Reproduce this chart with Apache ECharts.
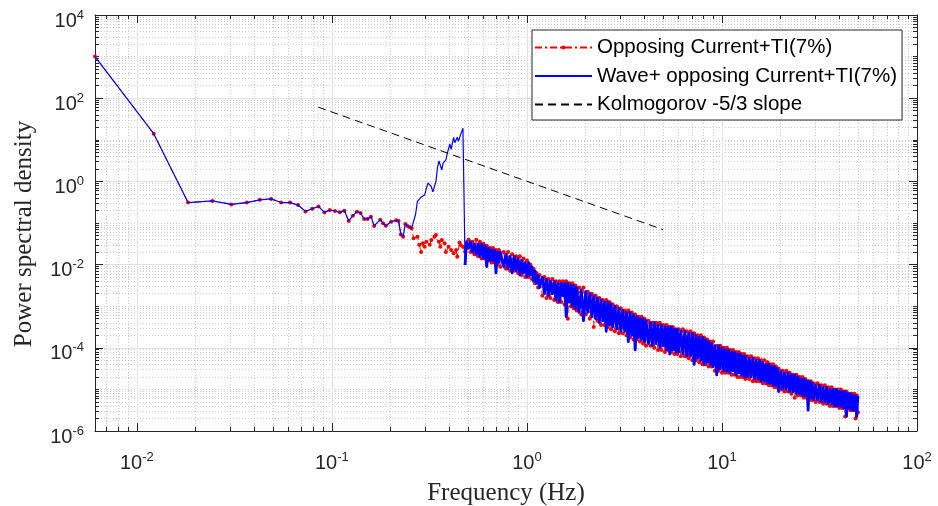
<!DOCTYPE html>
<html>
<head>
<meta charset="utf-8">
<title>Power spectral density</title>
<script src="https://cdn.jsdelivr.net/npm/echarts@6/dist/echarts.min.js"></script>
<style>
  html, body { margin: 0; padding: 0; background: #ffffff; }
  #chart { width: 938px; height: 506px; }
</style>
</head>
<body>
<div id="chart"></div>
<script>
// ---- Spectrum data (frequency in Hz, PSD) ----

// Low-frequency part where both spectra coincide
const sharedFreq = [0.0061, 0.0122, 0.0183, 0.0244, 0.0305, 0.0366, 0.0427, 0.0488, 0.0549, 0.0610,
  0.0671, 0.0732, 0.0793, 0.0854, 0.0915, 0.0976, 0.1037, 0.1098, 0.1159, 0.1220,
  0.1281, 0.1342, 0.1403, 0.1464, 0.1525, 0.1586, 0.1647, 0.1769, 0.1830, 0.1891,
  0.2013, 0.2135, 0.2196, 0.2257, 0.2318, 0.2379, 0.2440, 0.2501];
const sharedPsd = [1000, 14, 0.31, 0.34, 0.28, 0.31, 0.36, 0.38, 0.31, 0.31,
  0.27, 0.19, 0.22, 0.25, 0.18, 0.205, 0.194, 0.181, 0.198, 0.112,
  0.15, 0.187, 0.174, 0.125, 0.125, 0.142, 0.085, 0.12, 0.098, 0.086,
  0.107, 0.116, 0.112, 0.053, 0.047, 0.095, 0.085, 0.08];

// Current only, 0.25 - 0.48 Hz
const redMidFreq = [0.2562, 0.2623, 0.2745, 0.2806, 0.2867, 0.2928, 0.2989, 0.3050, 0.3172, 0.3233,
  0.3355, 0.3416, 0.3538, 0.3599, 0.3660, 0.3782, 0.3843, 0.3965, 0.4087, 0.4209,
  0.4331, 0.4392, 0.4514, 0.4575, 0.4697, 0.4819];
const redMidPsd = [0.075, 0.043, 0.047, 0.030, 0.020, 0.0325, 0.027, 0.0355, 0.030, 0.039,
  0.047, 0.0515, 0.0355, 0.027, 0.039, 0.0325, 0.020, 0.027, 0.0224, 0.0187,
  0.0224, 0.0155, 0.034, 0.0296, 0.0269, 0.0204];

// Wave + current, 0.25 - 0.48 Hz (wave peak)
const blueMidFreq = [0.2562, 0.2684, 0.2745, 0.2867, 0.2989, 0.3050, 0.3111, 0.3233, 0.3294, 0.3416,
  0.3477, 0.3538, 0.3660, 0.3721, 0.3843, 0.3904, 0.4026, 0.4087, 0.4209, 0.4270,
  0.4392, 0.4453, 0.4575, 0.4697, 0.4819];
const blueMidPsd = [0.075, 0.16, 0.33, 0.42, 0.47, 0.68, 0.92, 0.75, 0.56, 1.0,
  2.1, 3.1, 1.9, 2.8, 3.3, 4.7, 8.0, 5.9, 11.5, 8.5,
  11.5, 9.2, 13.5, 19, 0.0098];

// Inertial range, 0.49 - 50 Hz
const bandFreq = [
  0.490, 0.502, 0.514, 0.526, 0.538, 0.550, 0.562, 0.574, 0.586, 0.598, 0.610, 0.622, 0.634, 0.646, 0.658, 0.670, 0.682, 0.694, 0.706, 0.718, 0.730,
  0.76, 0.78, 0.80, 0.82, 0.84, 0.86, 0.88, 0.90, 0.92, 0.94, 0.96, 0.98, 1.00, 1.02, 1.04, 1.06, 1.08, 1.10, 1.12, 1.14, 1.16,
  1.20, 1.23, 1.26, 1.29, 1.32, 1.35, 1.38, 1.41, 1.44, 1.47, 1.50, 1.53, 1.56, 1.59, 1.62, 1.65, 1.68, 1.71, 1.74, 1.77, 1.80,
  1.85, 1.90, 1.95, 2.00, 2.05, 2.10, 2.15, 2.20, 2.25, 2.30, 2.35, 2.40, 2.45, 2.50, 2.55, 2.60, 2.65, 2.70, 2.75,
  2.82, 2.89, 2.96, 3.03, 3.10, 3.17, 3.24, 3.31, 3.38, 3.45, 3.52, 3.59, 3.66, 3.73, 3.80, 3.87, 3.94, 4.01, 4.08,
  4.2, 4.3, 4.4, 4.5, 4.6, 4.7, 4.8, 4.9, 5.0, 5.1, 5.2, 5.3, 5.4, 5.5, 5.6, 5.7, 5.8, 5.9, 6.0,
  6.15, 6.30, 6.45, 6.60, 6.75, 6.90, 7.05, 7.20, 7.35, 7.50, 7.65, 7.80, 7.95, 8.10, 8.25, 8.40, 8.55, 8.70, 8.85, 9.00,
  9.2, 9.4, 9.6, 9.8, 10.0, 10.2, 10.4, 10.6, 10.8, 11.0, 11.2, 11.4, 11.6, 11.8, 12.0, 12.2, 12.4, 12.6, 12.8, 13.0, 13.2,
  13.5, 13.8, 14.1, 14.4, 14.7, 15.0, 15.3, 15.6, 15.9, 16.2, 16.5, 16.8, 17.1, 17.4, 17.7, 18.0, 18.3, 18.6, 18.9, 19.2, 19.5,
  20.0, 20.45, 20.9, 21.35, 21.8, 22.25, 22.7, 23.15, 23.6, 24.05, 24.5, 24.95, 25.4, 25.85, 26.3, 26.75, 27.2, 27.65, 28.1, 28.55, 29.0,
  29.5, 30.2, 30.9, 31.6, 32.3, 33.0, 33.7, 34.4, 35.1, 35.8, 36.5, 37.2, 37.9, 38.6, 39.3, 40.0, 40.7, 41.4, 42.1, 42.8,
  43.5, 44.2, 44.9, 45.6, 46.3, 47.0, 47.7, 48.4, 49.1, 49.8
];
const redBandPsd = [
  2.5e-2, 3.98e-2, 2.0e-2, 3.55e-2, 1.78e-2, 3.98e-2, 1.58e-2, 3.55e-2, 1.41e-2, 3.16e-2, 1.41e-2, 2.82e-2, 1.26e-2, 2.51e-2, 1.12e-2, 2.51e-2, 1.12e-2, 2.24e-2, 1.0e-2, 2.24e-2, 8.9e-3,
  2.0e-2, 7.9e-3, 2.0e-2, 7.1e-3, 1.78e-2, 7.1e-3, 1.58e-2, 6.3e-3, 1.58e-2, 5.6e-3, 1.41e-2, 5.0e-3, 1.26e-2, 5.0e-3, 1.0e-2, 4.5e-3, 7.9e-3, 3.55e-3, 6.3e-3, 2.8e-3, 5.6e-3,
  1.78e-3, 5.0e-3, 1.58e-3, 4.5e-3, 1.58e-3, 4.5e-3, 1.41e-3, 4.0e-3, 1.26e-3, 4.0e-3, 1.26e-3, 4.0e-3, 1.12e-3, 4.0e-3, 5.0e-4, 3.55e-3, 1.0e-3, 3.55e-3, 8.9e-4, 3.16e-3, 7.9e-4,
  2.8e-3, 6.3e-4, 2.8e-3, 6.3e-4, 2.24e-3, 5.0e-4, 2.0e-3, 3.16e-4, 1.78e-3, 4.5e-4, 1.58e-3, 3.55e-4, 1.41e-3, 3.55e-4, 1.41e-3, 3.16e-4, 1.26e-3, 2.8e-4, 1.12e-3,
  2.5e-4, 1.0e-3, 2.24e-4, 8.9e-4, 2.24e-4, 7.9e-4, 2.0e-4, 7.9e-4, 1.78e-4, 7.1e-4, 1.58e-4, 6.3e-4, 1.58e-4, 5.6e-4, 1.41e-4, 5.6e-4, 1.26e-4, 5.0e-4, 1.12e-4,
  4.5e-4, 1.12e-4, 4.0e-4, 1.0e-4, 4.0e-4, 8.9e-5, 4.0e-4, 8.9e-5, 3.55e-4, 7.9e-5, 3.55e-4, 8.9e-5, 3.16e-4, 7.9e-5, 3.16e-4, 7.1e-5, 2.8e-4, 7.1e-5, 2.8e-4,
  6.3e-5, 2.8e-4, 6.3e-5, 2.5e-4, 5.6e-5, 2.5e-4, 5.0e-5, 2.24e-4, 5.0e-5, 2.0e-4, 4.5e-5, 2.0e-4, 4.0e-5, 1.78e-4, 4.0e-5, 1.58e-4, 3.55e-5, 1.41e-4, 3.55e-5, 1.41e-4,
  2.8e-5, 1.12e-4, 2.8e-5, 1.12e-4, 2.5e-5, 1.0e-4, 2.5e-5, 1.0e-4, 2.5e-5, 8.9e-5, 2.24e-5, 8.9e-5, 2.24e-5, 7.9e-5, 2.0e-5, 7.9e-5, 2.0e-5, 7.1e-5, 2.0e-5, 7.1e-5, 1.78e-5,
  6.3e-5, 1.78e-5, 6.3e-5, 1.58e-5, 5.6e-5, 1.58e-5, 5.6e-5, 1.58e-5, 5.0e-5, 1.41e-5, 5.0e-5, 1.41e-5, 4.5e-5, 1.26e-5, 4.0e-5, 1.26e-5, 4.0e-5, 1.12e-5, 3.55e-5, 1.12e-5, 3.16e-5,
  1.0e-5, 2.8e-5, 8.9e-6, 2.8e-5, 8.9e-6, 2.5e-5, 7.9e-6, 2.24e-5, 6.3e-6, 2.24e-5, 7.1e-6, 2.0e-5, 7.1e-6, 2.0e-5, 6.3e-6, 1.78e-5, 6.3e-6, 1.58e-5, 5.6e-6, 1.58e-5, 5.6e-6,
  1.41e-5, 5.0e-6, 1.41e-5, 5.0e-6, 1.26e-5, 4.5e-6, 1.26e-5, 4.5e-6, 1.12e-5, 3.98e-6, 1.12e-5, 3.98e-6, 1.0e-5, 3.98e-6, 1.0e-5, 3.55e-6, 1.0e-5, 3.55e-6, 8.9e-6, 2.24e-6,
  8.9e-6, 3.55e-6, 7.9e-6, 3.16e-6, 7.9e-6, 3.16e-6, 7.9e-6, 2.0e-6, 7.1e-6, 2.8e-6
];
const blueBandPsd = [
  3.55e-2, 2.5e-2, 3.55e-2, 2.0e-2, 3.16e-2, 1.78e-2, 3.16e-2, 1.58e-2, 3.16e-2, 1.41e-2, 2.82e-2, 8.9e-3, 2.51e-2, 1.26e-2, 2.24e-2, 1.26e-2, 2.24e-2, 6.3e-3, 2.0e-2, 1.12e-2, 2.0e-2,
  8.9e-3, 1.78e-2, 7.9e-3, 1.58e-2, 6.3e-3, 1.58e-2, 7.1e-3, 1.41e-2, 5.6e-3, 1.26e-2, 6.3e-3, 1.12e-2, 5.0e-3, 1.12e-2, 5.6e-3, 8.9e-3, 4.0e-3, 7.1e-3, 3.55e-3, 5.6e-3, 2.8e-3,
  5.0e-3, 2.0e-3, 4.5e-3, 1.78e-3, 4.0e-3, 2.0e-3, 4.0e-3, 1.41e-3, 3.55e-3, 1.26e-3, 3.55e-3, 1.78e-3, 3.55e-3, 5.6e-4, 3.55e-3, 1.26e-3, 3.16e-3, 1.0e-3, 3.16e-3, 8.9e-4, 2.8e-3,
  7.1e-4, 2.5e-3, 4.5e-4, 2.24e-3, 7.1e-4, 2.0e-3, 5.6e-4, 1.78e-3, 5.0e-4, 1.58e-3, 4.0e-4, 1.41e-3, 4.5e-4, 1.26e-3, 2.5e-4, 1.26e-3, 3.55e-4, 1.12e-3, 3.16e-4,
  1.0e-3, 2.8e-4, 8.9e-4, 2.5e-4, 7.9e-4, 2.5e-4, 7.1e-4, 1.41e-4, 7.1e-4, 2.0e-4, 6.3e-4, 8.9e-5, 5.6e-4, 1.78e-4, 5.0e-4, 1.58e-4, 5.0e-4, 1.41e-4, 4.5e-4,
  1.26e-4, 4.0e-4, 1.12e-4, 4.0e-4, 1.26e-4, 3.55e-4, 1.0e-4, 3.55e-4, 1.12e-4, 3.16e-4, 8.9e-5, 3.16e-4, 7.1e-5, 3.16e-4, 8.9e-5, 2.8e-4, 7.9e-5, 2.8e-4, 7.9e-5,
  2.5e-4, 7.1e-5, 2.5e-4, 6.3e-5, 2.24e-4, 6.3e-5, 2.24e-4, 4.0e-5, 2.0e-4, 5.6e-5, 1.78e-4, 5.0e-5, 1.78e-4, 4.0e-5, 1.58e-4, 4.5e-5, 1.41e-4, 4.0e-5, 1.26e-4, 3.55e-5,
  1.12e-4, 2.24e-5, 1.12e-4, 3.16e-5, 1.0e-4, 2.8e-5, 8.9e-5, 2.8e-5, 8.9e-5, 2.5e-5, 7.9e-5, 2.8e-5, 7.9e-5, 2.24e-5, 7.1e-5, 2.5e-5, 7.1e-5, 2.24e-5, 6.3e-5, 2.0e-5, 6.3e-5,
  2.0e-5, 5.6e-5, 2.0e-5, 5.6e-5, 1.78e-5, 5.0e-5, 1.78e-5, 5.0e-5, 1.58e-5, 4.5e-5, 1.58e-5, 4.0e-5, 1.41e-5, 4.0e-5, 1.41e-5, 3.55e-5, 1.26e-5, 3.55e-5, 1.26e-5, 3.16e-5, 8.9e-6,
  2.8e-5, 1.0e-5, 2.5e-5, 1.0e-5, 2.5e-5, 8.9e-6, 2.24e-5, 8.9e-6, 2.24e-5, 7.9e-6, 2.0e-5, 7.9e-6, 1.78e-5, 7.1e-6, 1.78e-5, 7.1e-6, 1.58e-5, 3.16e-6, 1.58e-5, 6.3e-6, 1.41e-5,
  5.6e-6, 1.26e-5, 5.6e-6, 1.26e-5, 5.0e-6, 1.12e-5, 5.0e-6, 1.12e-5, 4.5e-6, 1.0e-5, 4.5e-6, 1.0e-5, 3.98e-6, 1.0e-5, 3.98e-6, 8.9e-6, 3.98e-6, 8.9e-6, 3.55e-6, 8.9e-6,
  2.24e-6, 7.9e-6, 3.55e-6, 7.9e-6, 3.16e-6, 7.1e-6, 3.16e-6, 7.1e-6, 2.24e-6, 7.1e-6
];

// Reference -5/3 line end points
const kolmogorovFreq = [0.085, 5.0];
const kolmogorovPsd = [61, 0.069];

// Legend names
const seriesNames = ['Opposing Current+TI(7%)', 'Wave+ opposing Current+TI(7%)', 'Kolmogorov -5/3 slope'];

// Axis ranges and labelled decades
const xRange = [0.0061, 100];
const yRange = [1e-6, 1e4];
const xMajor = [0.01, 0.1, 1, 10, 100];
const yMajor = [1e-6, 1e-4, 1e-2, 1, 1e2, 1e4];

// ---- helpers ----
function pairUp(xs, ys, label) {
  if (xs.length !== ys.length) {
    throw new Error(label + ': ' + xs.length + ' x values vs ' + ys.length + ' y values');
  }
  return xs.map(function (x, i) { return [x, ys[i]]; });
}

// Minor ticks of a log axis: 2..9 x 10^n, plus unlabelled decades
function minorTicks(range, majors) {
  const out = [];
  for (let e = -8; e <= 5; e++) {
    for (let m = 1; m <= 9; m++) {
      const v = +(m + 'e' + e);
      if (v > range[0] * 1.0001 && v < range[1] * 0.9999 && majors.indexOf(v) < 0) out.push(v);
    }
  }
  return out;
}

const xMinor = minorTicks(xRange, xMajor);
const yMinor = minorTicks(yRange, yMajor);

const redData = pairUp(sharedFreq.concat(redMidFreq, bandFreq), sharedPsd.concat(redMidPsd, redBandPsd), 'current');
// wave spectrum: thin trace up to the peak, then the dense inertial range band
const blueLowData = pairUp(sharedFreq.concat(blueMidFreq), sharedPsd.concat(blueMidPsd), 'wave');
const blueBandData = pairUp(blueMidFreq.slice(-1).concat(bandFreq), blueMidPsd.slice(-1).concat(blueBandPsd), 'wave band');
const kolmogorovData = pairUp(kolmogorovFreq, kolmogorovPsd, 'kolmogorov');

const INK = '#262626';
const SANS = 'Liberation Sans';
const SERIF = 'Liberation Serif';

// "10" with a raised exponent: the base sits at the bottom of a tall line box,
// the exponent at its middle
function powerLabel(v) {
  const e = Math.round(Math.log10(v));
  return '{b|10}{s|' + e + '}';
}
const powerRich = {
  b: { fontFamily: SANS, fontSize: 20, lineHeight: 32, color: INK, verticalAlign: 'bottom' },
  s: { fontFamily: SANS, fontSize: 13, lineHeight: 13, color: INK, verticalAlign: 'middle' }
};

function logAxis(range, position, ticks, opts) {
  return Object.assign({
    type: 'log',
    logBase: 10,
    min: range[0],
    max: range[1],
    position: position,
    axisLine: { show: false },
    axisTick: { show: true, inside: true, length: opts.tickLen, customValues: ticks, lineStyle: { color: INK, width: 1 } },
    axisLabel: { show: false },
    splitLine: { show: false },
    splitArea: { show: false }
  }, opts.extra || {});
}

const framed = { show: true, onZero: false, lineStyle: { color: INK, width: 1 } };
const majorGrid = { show: true, lineStyle: { color: '#e2e2e2', width: 1 } };
const minorGrid = { show: true, lineStyle: { color: '#cdcdcd', width: 1, type: [1, 2] } };
const noMarker = { opacity: 0 };

const chart = echarts.init(document.getElementById('chart'), null, { renderer: 'canvas' });

chart.setOption({
  animation: false,
  backgroundColor: '#ffffff',
  grid: { left: 95, right: 21, top: 15, bottom: 75, containLabel: false, outerBoundsMode: 'none' },
  legend: {
    orient: 'vertical',
    left: 532,
    top: 30,
    padding: [7, 5, 5, 2],
    itemWidth: 57,
    itemHeight: 5,
    itemGap: 7.5,
    borderColor: INK,
    borderWidth: 1,
    backgroundColor: '#ffffff',
    borderRadius: 0,
    textStyle: { fontFamily: SANS, fontSize: 20.5, lineHeight: 20, color: '#000000' },
    data: [
      { name: seriesNames[0] },
      { name: seriesNames[1], itemStyle: noMarker },
      { name: seriesNames[2], itemStyle: noMarker }
    ]
  },
  xAxis: [
    logAxis(xRange, 'bottom', xMajor, { tickLen: 8, extra: {
      axisLine: framed,
      splitLine: majorGrid,
      axisLabel: { show: true, customValues: xMajor, formatter: powerLabel, rich: powerRich, margin: 10 },
      name: 'Frequency (Hz)',
      nameLocation: 'middle',
      nameGap: 50,
      nameMoveOverlap: false,
      nameTextStyle: { fontFamily: SERIF, fontSize: 25, color: INK }
    } }),
    logAxis(xRange, 'bottom', xMinor, { tickLen: 4, extra: { splitLine: minorGrid } }),
    logAxis(xRange, 'top', xMajor, { tickLen: 8, extra: { axisLine: framed } }),
    logAxis(xRange, 'top', xMinor, { tickLen: 4 })
  ],
  yAxis: [
    logAxis(yRange, 'left', yMajor, { tickLen: 8, extra: {
      axisLine: framed,
      splitLine: majorGrid,
      axisLabel: { show: true, customValues: yMajor, formatter: powerLabel, rich: powerRich, margin: 11 },
      name: 'Power spectral density',
      nameLocation: 'middle',
      nameGap: 58,
      nameMoveOverlap: false,
      nameTextStyle: { fontFamily: SERIF, fontSize: 25, color: INK, padding: [0, 22, 0, 0] }
    } }),
    logAxis(yRange, 'left', yMinor, { tickLen: 4, extra: { splitLine: minorGrid } }),
    logAxis(yRange, 'right', yMajor, { tickLen: 8, extra: { axisLine: framed } }),
    logAxis(yRange, 'right', yMinor, { tickLen: 4 })
  ],
  series: [
    {
      name: seriesNames[0],
      type: 'line',
      data: redData,
      showSymbol: true,
      symbol: 'circle',
      symbolSize: 4,
      itemStyle: { color: '#ff0000', borderWidth: 0 },
      lineStyle: { color: '#ff0000', width: 1, type: [7, 3, 2, 3] },
      emphasis: { disabled: true },
      z: 2
    },
    {
      name: seriesNames[1],
      type: 'line',
      data: blueLowData,
      showSymbol: false,
      symbol: 'none',
      itemStyle: { color: '#0000ff' },
      lineStyle: { color: '#0000ff', width: 1.2 },
      emphasis: { disabled: true },
      z: 3
    },
    {
      name: seriesNames[1],
      type: 'line',
      data: blueBandData,
      showSymbol: false,
      symbol: 'none',
      itemStyle: { color: '#0000ff' },
      lineStyle: { color: '#0000ff', width: 2.8, join: 'round' },
      emphasis: { disabled: true },
      z: 3
    },
    {
      name: seriesNames[2],
      type: 'line',
      data: kolmogorovData,
      showSymbol: false,
      symbol: 'none',
      itemStyle: { color: '#000000' },
      lineStyle: { color: '#000000', width: 1, type: [8, 5] },
      emphasis: { disabled: true },
      z: 4
    }
  ]
});
</script>
</body>
</html>
